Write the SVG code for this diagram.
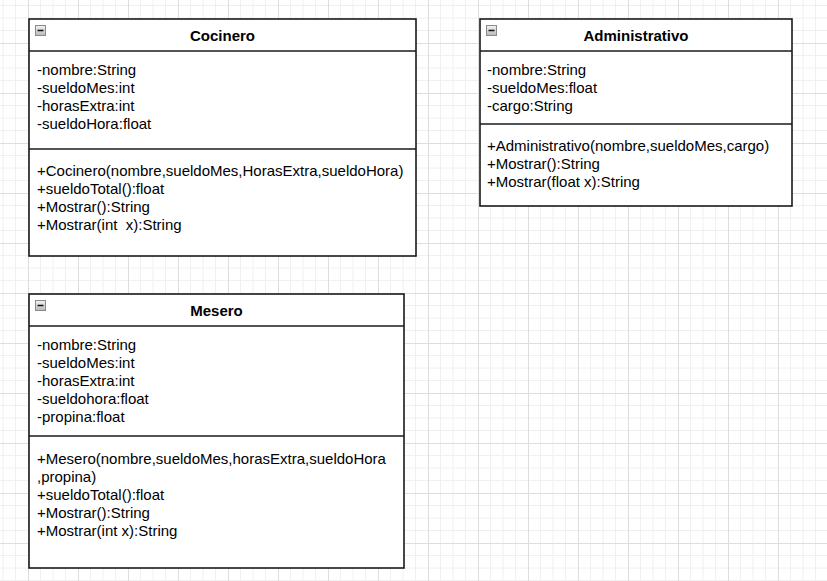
<svg xmlns="http://www.w3.org/2000/svg" width="827" height="581" viewBox="0 0 827 581">
<defs>
<pattern id="grid" x="28" y="43" width="50" height="50" patternUnits="userSpaceOnUse">
<path d="M12.5 0V50M25 0V50M37.5 0V50M0 12.5H50M0 25H50M0 37.5H50" stroke="#f0f0f0" stroke-width="1" fill="none"/>
<path d="M0.5 0V50M0 0.5H50" stroke="#dedede" stroke-width="1" fill="none"/>
</pattern>
<linearGradient id="ig" x1="0" y1="0" x2="0" y2="1">
<stop offset="0" stop-color="#f4f4f4"/>
<stop offset="1" stop-color="#b8b8b8"/>
</linearGradient>
<g id="icon">
<rect x="0.5" y="0.5" width="10" height="10" fill="url(#ig)" stroke="#8a8a8a" stroke-width="1"/>
<line x1="2.5" y1="5.5" x2="8.5" y2="5.5" stroke="#111" stroke-width="1.5"/>
</g>
</defs>
<style>
.box{fill:#fff;stroke:#1a1a1a;stroke-width:1.6}
.sep{stroke:#1a1a1a;stroke-width:1.6}
.t{font-family:"Liberation Sans",Arial,sans-serif;font-size:15px;fill:#000;white-space:pre}
.h{font-family:"Liberation Sans",Arial,sans-serif;font-size:15px;font-weight:bold;fill:#000;text-anchor:middle}
</style>
<rect width="827" height="581" fill="#fff"/>
<rect width="827" height="581" fill="url(#grid)"/>
<g id="connectors"/>
<g id="Cocinero">
<rect class="box" x="29" y="19" width="387" height="237"/>
<line class="sep" x1="29" y1="51" x2="416" y2="51"/>
<line class="sep" x1="29" y1="149" x2="416" y2="149"/>
<use href="#icon" x="35" y="25"/>
<text class="h" x="222.5" y="40.5">Cocinero</text>
<text class="t" x="37" y="74.5">-nombre:String</text>
<text class="t" x="37" y="92.5">-sueldoMes:int</text>
<text class="t" x="37" y="110.5">-horasExtra:int</text>
<text class="t" x="37" y="128.5">-sueldoHora:float</text>
<text class="t" x="37" y="175.5">+Cocinero(nombre,sueldoMes,HorasExtra,sueldoHora)</text>
<text class="t" x="37" y="193.5">+sueldoTotal():float</text>
<text class="t" x="37" y="211.5">+Mostrar():String</text>
<text class="t" x="37" y="229.5" xml:space="preserve">+Mostrar(int  x):String</text>
</g>
<g id="Administrativo">
<rect class="box" x="480" y="19" width="312" height="187"/>
<line class="sep" x1="480" y1="51" x2="792" y2="51"/>
<line class="sep" x1="480" y1="124" x2="792" y2="124"/>
<use href="#icon" x="486" y="25"/>
<text class="h" x="636" y="40.5">Administrativo</text>
<text class="t" x="487" y="74.5">-nombre:String</text>
<text class="t" x="487" y="92.5">-sueldoMes:float</text>
<text class="t" x="487" y="110.5">-cargo:String</text>
<text class="t" x="487" y="150.5">+Administrativo(nombre,sueldoMes,cargo)</text>
<text class="t" x="487" y="168.5">+Mostrar():String</text>
<text class="t" x="487" y="186.5">+Mostrar(float x):String</text>
</g>
<g id="Mesero">
<rect class="box" x="29" y="294" width="375" height="274"/>
<line class="sep" x1="29" y1="326" x2="404" y2="326"/>
<line class="sep" x1="29" y1="436" x2="404" y2="436"/>
<use href="#icon" x="35" y="300"/>
<text class="h" x="216.5" y="315.5">Mesero</text>
<text class="t" x="37" y="349.5">-nombre:String</text>
<text class="t" x="37" y="367.5">-sueldoMes:int</text>
<text class="t" x="37" y="385.5">-horasExtra:int</text>
<text class="t" x="37" y="403.5">-sueldohora:float</text>
<text class="t" x="37" y="421.5">-propina:float</text>
<text class="t" x="37" y="464">+Mesero(nombre,sueldoMes,horasExtra,sueldoHora</text>
<text class="t" x="37" y="482">,propina)</text>
<text class="t" x="37" y="500">+sueldoTotal():float</text>
<text class="t" x="37" y="518">+Mostrar():String</text>
<text class="t" x="37" y="536">+Mostrar(int x):String</text>
</g>
</svg>
